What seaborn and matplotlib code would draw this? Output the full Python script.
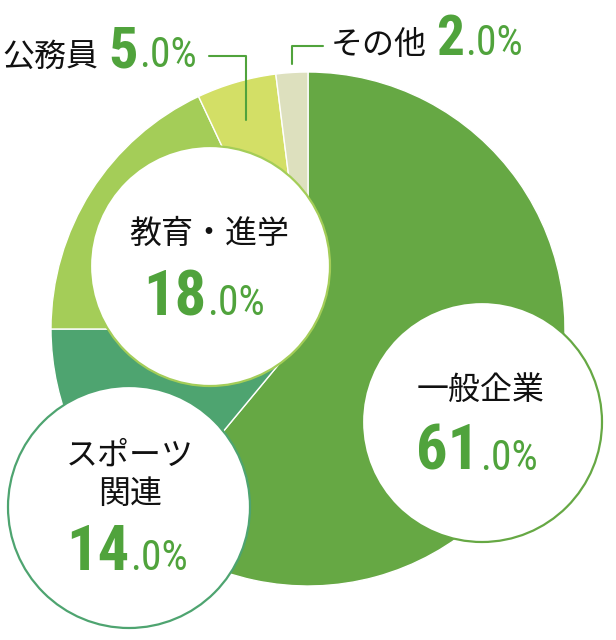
import matplotlib
matplotlib.use("Agg")
import matplotlib.pyplot as plt
from matplotlib import font_manager
from matplotlib.patches import Circle
import seaborn as sns

# データ
labels = ["一般企業", "スポーツ\n関連", "教育・進学", "公務員", "その他"]
values = [61.0, 14.0, 18.0, 5.0, 2.0]
colors = ["#66a844", "#4ea470", "#a4cd58", "#d3df66", "#dde0be"]

sns.set_theme(style="white")
plt.rcParams['font.family'] = ['Noto Sans CJK JP', 'DejaVu Sans']

nombres = {f.name for f in font_manager.fontManager.ttflist}
if 'Roboto Condensed' in nombres:
    fuente_num = 'Roboto Condensed'
elif 'Liberation Sans Narrow' in nombres:
    fuente_num = 'Liberation Sans Narrow'
else:
    fuente_num = 'Roboto'

VERDE = "#50a33c"
H = 640

def py(y):
    return H - y

fig = plt.figure(figsize=(6.16, 6.40), dpi=100)
ax = fig.add_axes([0, 0, 1, 1])

ax.pie(values, colors=colors, startangle=90, counterclock=False,
       center=(308, py(329)), radius=257,
       wedgeprops=dict(edgecolor="white", linewidth=1))
ax.set_xlim(0, 616)
ax.set_ylim(0, H)
ax.set_aspect('equal')
ax.axis('off')

def numero(x_split, y_base, valor, grande=45, chico=30):
    entero, dec = f"{valor:.1f}".split(".")
    ax.text(x_split, py(y_base), entero, ha='right', va='baseline',
            fontsize=grande, color=VERDE, family=fuente_num, weight='semibold', zorder=5)
    ax.text(x_split + 1, py(y_base), "." + dec + "%", ha='left', va='baseline',
            fontsize=chico, color=VERDE, family=fuente_num, zorder=5)

# círculos con etiquetas
circulos = [
    (0, (482, 422), 120, (481, 390), (479, 470)),
    (1, (129, 507), 121, (130, 475), (129, 570)),
    (2, (210, 266), 120, (209, 234), (206, 315)),
]
for i, (cx, cy), r, (tx, ty), (nx, ny) in circulos:
    ax.add_patch(Circle((cx, py(cy)), r, facecolor="white", edgecolor=colors[i],
                        linewidth=1.6, zorder=4))
    ax.text(tx, py(ty), labels[i], ha='center', va='center', fontsize=23,
            color="#111111", linespacing=1.25, zorder=5)
    numero(nx, ny, values[i])

# etiquetas externas
ax.text(50, py(57), labels[3], ha='center', va='center', fontsize=23, color="#111111")
numero(138, 67, values[3], grande=42)
ax.plot([209, 246, 246], [py(56), py(56), py(120)], color=VERDE, lw=1.5, zorder=3)

ax.text(379, py(45), labels[4], ha='center', va='center', fontsize=23, color="#111111")
numero(464, 55, values[4], grande=40)
ax.plot([292, 292, 323], [py(64), py(46), py(46)], color=VERDE, lw=1.5, zorder=3)

fig.savefig("out.png", dpi=100)
